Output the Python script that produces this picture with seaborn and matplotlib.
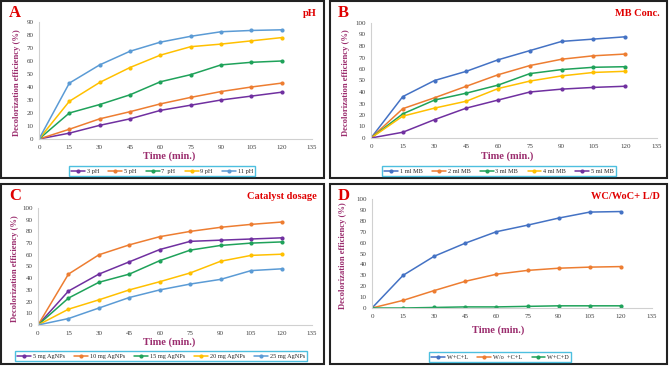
import pandas as pd
import matplotlib.pyplot as plt
import seaborn as sns
from matplotlib.patches import Rectangle

sns.set_style('white')
plt.rcParams['font.family'] = ['Liberation Serif', 'DejaVu Serif']

time = [0, 15, 30, 45, 60, 75, 90, 105, 120]

# A - pH
ph_labels = ['3 pH', '5 pH', '7  pH', '9 pH', '11 pH']
ph_3 = [0, 4.5, 10.5, 15.5, 22, 26, 30, 33, 36]
ph_5 = [0, 7.5, 15.5, 21, 27, 32, 36.5, 40, 43]
ph_7 = [0, 20, 26.5, 34, 44, 49.5, 57, 59, 60]
ph_9 = [0, 29, 43.5, 55, 64.5, 71, 73, 75.5, 78]
ph_11 = [0, 43, 57, 67.5, 74.5, 79, 82.5, 83.5, 84]

# B - MB conc.
mb_labels = ['1 ml MB', '2 ml MB', '3 ml MB', '4 ml MB', '5 ml MB']
mb_1 = [0, 36, 50, 58, 68, 76, 84, 86, 88]
mb_2 = [0, 25.5, 35, 45, 55, 63, 68.5, 71.5, 73]
mb_3 = [0, 21, 33, 39, 46, 56, 59.5, 61.5, 62]
mb_4 = [0, 19, 26, 32, 43, 49.5, 54, 57, 58]
mb_5 = [0, 5, 16, 26, 33, 40, 42.5, 44, 45]

# C - catalyst dosage
cat_labels = ['5 mg AgNPs', '10 mg AgNPs', '15 mg AgNPs', '20 mg AgNPs', '25 mg AgNPs']
cat_5 = [0, 29, 43.5, 54, 64.5, 71.5, 72.5, 73.5, 74.5]
cat_10 = [0, 43.5, 60, 68.5, 75.5, 80, 83.5, 86, 88]
cat_15 = [0, 23, 36.5, 43.5, 55, 64, 68, 70, 71]
cat_20 = [0, 13.5, 21.5, 30, 37, 44.5, 54.5, 59.5, 60.5]
cat_25 = [0, 5.5, 14.5, 23.5, 30, 35, 39, 46.5, 48]

# D - with/without catalyst, light/dark
ld_labels = ['W+C+L', 'W/o  +C+L', 'W+C+D']
ld_wcl = [0, 30, 47.5, 59.5, 70, 76, 82.5, 88, 88.5]
ld_wocl = [0, 7, 16, 24.5, 31, 34.5, 36.5, 37.5, 38]
ld_wcd = [0, 0, 0.5, 1, 1, 1.5, 2, 2, 2]

blue = '#4472C4'
orange = '#ED7D31'
green = '#1FA25A'
yellow = '#FFC000'
purple = '#7030A0'
lblue = '#5B9BD5'
red = '#E00000'
lab_col = '#9B2D6E'

panels = [
    dict(letter='A', title='pH', labels=ph_labels, series=[ph_3, ph_5, ph_7, ph_9, ph_11],
         colors=[purple, orange, green, yellow, lblue], ymax=90,
         ax=[39, 22, 312, 139], frame=[1, 1, 324, 178], leg=(162, 171), xl=(169, 156), yl=17),
    dict(letter='B', title='MB Conc.', labels=mb_labels, series=[mb_1, mb_2, mb_3, mb_4, mb_5],
         colors=[blue, orange, green, yellow, purple], ymax=100,
         ax=[371, 23, 657, 138], frame=[330, 1, 667, 178], leg=(499, 171), xl=(507, 156), yl=346),
    dict(letter='C', title='Catalyst dosage', labels=cat_labels, series=[cat_5, cat_10, cat_15, cat_20, cat_25],
         colors=[purple, orange, green, yellow, lblue], ymax=100,
         ax=[38, 208, 312, 325], frame=[1, 184, 324, 364], leg=(161, 356), xl=(169, 342), yl=15),
    dict(letter='D', title='WC/WoC+ L/D', labels=ld_labels, series=[ld_wcl, ld_wocl, ld_wcd],
         colors=[blue, orange, green], ymax=100,
         ax=[372, 199, 652, 308], frame=[330, 184, 667, 364], leg=(500, 357), xl=(498, 330), yl=343),
]

W, H = 669, 366
fig = plt.figure(figsize=(W / 100, H / 100), dpi=100)

for p in panels:
    x0, y0, x1, y1 = p['ax']
    ax = fig.add_axes([x0 / W, 1 - y1 / H, (x1 - x0) / W, (y1 - y0) / H])
    rows = []
    for lab, vals in zip(p['labels'], p['series']):
        for t, v in zip(time, vals):
            rows.append({'Time': t, 'Eff': v, 'Series': lab})
    df = pd.DataFrame(rows)
    sns.lineplot(data=df, x='Time', y='Eff', hue='Series', palette=p['colors'],
                 marker='o', markersize=3, markeredgewidth=0, linewidth=1.1, ax=ax)
    ax.set_xlim(0, 135)
    ax.set_ylim(0, p['ymax'])
    ax.set_xticks(range(0, 136, 15))
    ax.set_yticks(range(0, p['ymax'] + 1, 10))
    ax.tick_params(labelsize=5, length=0, pad=4, colors='#404040')
    for s in ['top', 'right']:
        ax.spines[s].set_visible(False)
    for s in ['left', 'bottom']:
        ax.spines[s].set_color('#D0D0D0')
        ax.spines[s].set_linewidth(0.8)
    ax.set_xlabel('')
    ax.set_ylabel('')
    ax.get_legend().remove()

    fig.text(p['xl'][0] / W, 1 - p['xl'][1] / H, 'Time (min.)', ha='center', va='center',
             fontsize=7.5, fontweight='bold', color=lab_col)
    fig.text(p['yl'] / W, 1 - ((y0 + y1) / 2 + 2) / H, 'Decolorization efficiency (%)', ha='center',
             va='center', rotation=90, fontsize=6.2, fontweight='bold', color=lab_col)

    fx0, fy0, fx1, fy1 = p['frame']
    fig.patches.append(Rectangle((fx0 / W, 1 - fy1 / H), (fx1 - fx0) / W, (fy1 - fy0) / H,
                                 transform=fig.transFigure, fill=False, edgecolor='#222222',
                                 linewidth=1.5))
    fig.text((fx0 + 8) / W, 1 - (fy0 + 4) / H, p['letter'], ha='left', va='top',
             fontsize=12, fontweight='bold', color=red)
    fig.text((fx1 - 7) / W, 1 - (fy0 + 12) / H, p['title'], ha='right', va='center',
             fontsize=7.5, fontweight='bold', color=red)

    handles, labels = ax.get_legend_handles_labels()
    leg = fig.legend(handles, labels, loc='center', bbox_to_anchor=(p['leg'][0] / W, 1 - p['leg'][1] / H),
                     ncol=len(labels), fontsize=4.5, frameon=True, fancybox=False,
                     handlelength=2.2, columnspacing=1.5, handletextpad=0.3,
                     borderpad=0.35, borderaxespad=0)
    leg.get_frame().set_edgecolor('#20B0D8')
    leg.get_frame().set_linewidth(1.0)

fig.savefig('out.png', dpi=100)
